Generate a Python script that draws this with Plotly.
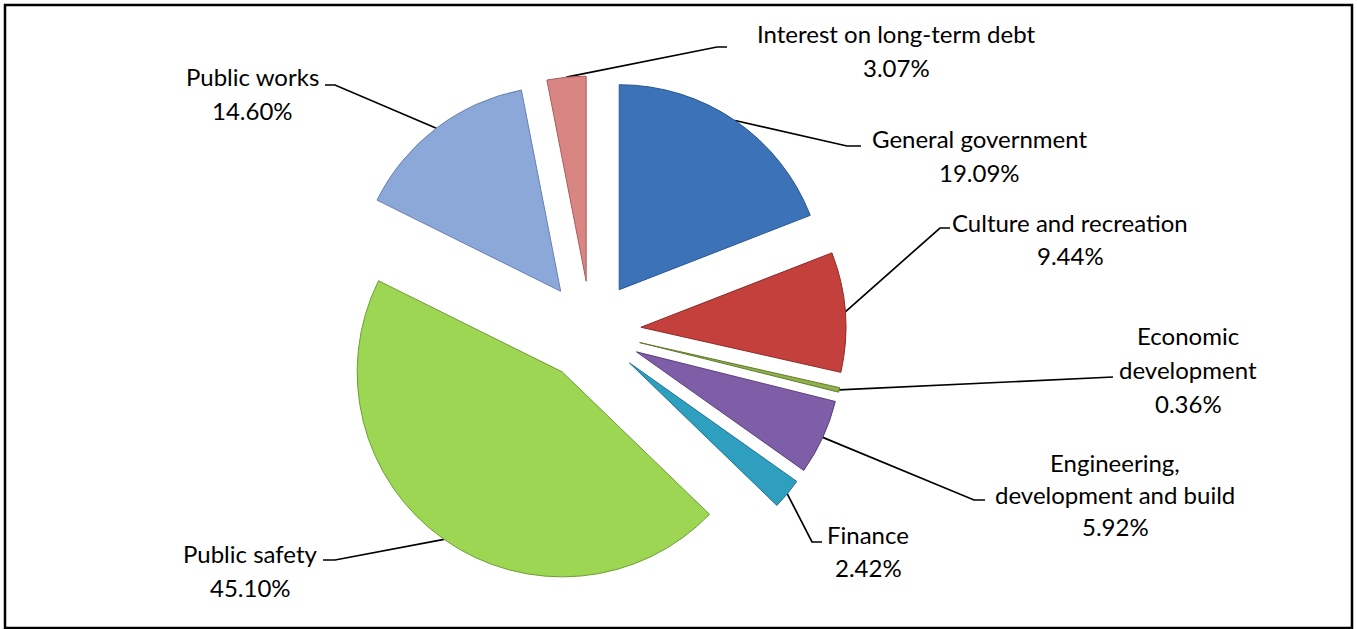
import math
import plotly.graph_objects as go

# ---------------- data ----------------
categories = [
    "General government",
    "Culture and recreation",
    "Economic development",
    "Engineering, development and build",
    "Finance",
    "Public safety",
    "Public works",
    "Interest on long-term debt",
]
display_names = [
    "General government",
    "Culture and recreation",
    "Economic<br>development",
    "Engineering,<br>development and build",
    "Finance",
    "Public safety",
    "Public works",
    "Interest on long-term debt",
]
shares = [19.09, 9.44, 0.36, 5.92, 2.42, 45.10, 14.60, 3.07]

# ---------------- style / layout ----------------
W, H = 1357, 629
colors = ["#3C72B8", "#C3403C", "#90B04C", "#7E5EA6", "#2E9FBE", "#9CD652", "#8BA8D8", "#D98584"]
edge_colors = ["#2A5590", "#8E2A27", "#607A2E", "#58407A", "#1E7390", "#6E9E35", "#6680B0", "#A65E5D"]
PULL = 0.244
CX, CY, R = 591, 331, 205          # pixel centre / radius of the pie
half = R * (1 + PULL)

# label: centre x, y of each text line (pixels)
label_x = [979, 1070, 1188, 1115, 868, 250, 252, 896]
label_lines_y = [[138, 172], [222, 255], [335, 369, 403], [462, 494, 526],
                 [534, 567], [553, 587], [76, 110], [33, 67]]
elbows = [((847, 146), (861, 146)), ((940, 228), (950, 228)),
          ((1103, 377), (1113, 377)), ((974, 500), (985, 500)),
          ((812, 542), (822, 542)), ((335, 560), (323, 560)),
          ((335, 85), (325, 85)), ((717, 47), (727, 47))]
FONT = dict(family="Lato, Carlito, Calibri, sans-serif", size=24, color="#000000")

fig = go.Figure()

# invisible pixel axes for leader lines / labels
fig.update_layout(
    xaxis=dict(range=[0, W], visible=False, domain=[0, 1], fixedrange=True),
    yaxis=dict(range=[H, 0], visible=False, domain=[0, 1], fixedrange=True),
)

total = sum(shares)
cum = 0.0
for i, v in enumerate(shares):
    mid = (cum + v / 2) / total * 2 * math.pi
    cum += v
    px = CX + half * math.sin(mid)
    py = CY - half * math.cos(mid)
    (ex, ey), (fx, fy) = elbows[i]
    fig.add_trace(go.Scatter(
        x=[px, ex, fx], y=[py, ey, fy], mode="lines",
        line=dict(color="black", width=1.7), hoverinfo="skip", showlegend=False,
    ))
    lines = display_names[i].split("<br>") + [f"{v:.2f}%"]
    for txt, ly in zip(lines, label_lines_y[i]):
        fig.add_annotation(
            x=label_x[i], y=ly, xref="x", yref="y", showarrow=False,
            text=txt, xanchor="center", yanchor="middle", font=FONT,
        )

fig.add_trace(go.Pie(
    labels=categories, values=shares, sort=False, direction="clockwise", rotation=0,
    pull=[PULL] * len(shares), textinfo="none", hoverinfo="label+percent",
    marker=dict(colors=colors, line=dict(color=edge_colors, width=1)),
    domain=dict(x=[(CX - half) / W, (CX + half) / W],
                y=[1 - (CY + half) / H, 1 - (CY - half) / H]),
    showlegend=False,
))

fig.add_shape(type="rect", xref="x", yref="y", x0=5, y0=5, x1=1352, y1=628,
              line=dict(color="black", width=2.5), fillcolor="rgba(0,0,0,0)")

fig.update_layout(
    width=W, height=H, margin=dict(l=0, r=0, t=0, b=0),
    paper_bgcolor="white", plot_bgcolor="white", showlegend=False,
)

fig.write_html(
    "out.html",
    config={"displayModeBar": False},
    post_script="document.body.style.margin='0';document.body.style.overflow='hidden';",
)
